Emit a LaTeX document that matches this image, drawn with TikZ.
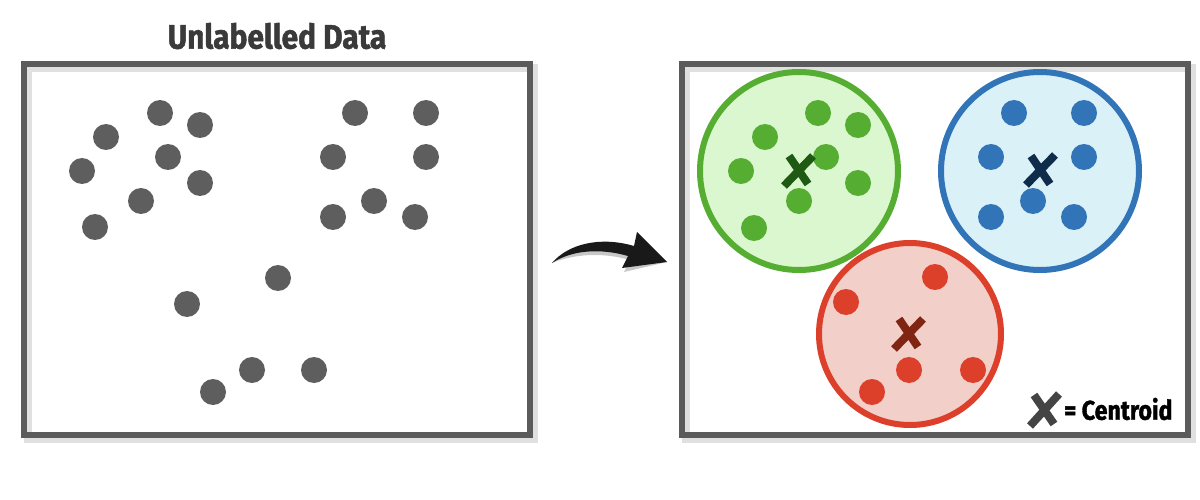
\documentclass[tikz,border=0pt]{standalone}
\usepackage{fontspec}
\setmainfont{Fira Sans}[BoldFeatures={FakeBold=1.5}]
\usepackage{xcolor}
\usetikzlibrary{positioning}

\definecolor{boxgray}{HTML}{5B5B5B}
\definecolor{dotgray}{HTML}{5E5E5E}
\definecolor{titlegray}{HTML}{3A3A3A}
\definecolor{grnline}{HTML}{55AD32}
\definecolor{grnfill}{HTML}{DBF7CF}
\definecolor{grnmark}{HTML}{1F5A14}
\definecolor{bluline}{HTML}{3274B8}
\definecolor{blufill}{HTML}{DBF1F8}
\definecolor{blumark}{HTML}{0F2D4A}
\definecolor{redline}{HTML}{DC3F2A}
\definecolor{redfill}{HTML}{F3CFCA}
\definecolor{redmark}{HTML}{7F2512}
\definecolor{legmark}{HTML}{444444}

\tikzset{
  frame/.style={draw=boxgray, line width=6pt},
  frameshadow/.style={draw=black, opacity=0.12, line width=8pt},
  cluster/.style={line width=6pt},
  xmark/.style={line width=8pt, line cap=butt},
  label/.style={inner sep=0pt, font=\bfseries}
}

\begin{document}
\begin{tikzpicture}[x=1pt,y=-1pt]
\useasboundingbox (0,0) rectangle (1200,500);

% frames with their shadows
\draw[frameshadow] (28,68) rectangle (534,439);
\draw[frameshadow] (686,68) rectangle (1192,439);
\draw[frame] (24,64) rectangle (530,435);
\draw[frame] (682,64) rectangle (1188,435);

\node[label, text=titlegray, font=\bfseries\fontsize{34}{34}\selectfont] (title) at (277,36) {\scalebox{0.88}[1]{Unlabelled Data}};

% unlabelled points
\foreach \p in {(160,113),(106,137),(200,125),(168,157),(82,171),(200,183),(141,201),(95,227),
  (355,113),(426,113),(333,157),(426,157),(374,201),(333,217),(415,217),
  (278,278),(187,304),(252,370),(314,370),(213,392)}
  \fill[dotgray] \p circle (13pt);

% arrow
\coordinate (arrowtail) at (552,263);
\coordinate (arrowtip) at (667,262);
\fill[black, opacity=0.22, shift={(2,4)}] (arrowtail) .. controls (568,244) and (600,236) .. (634,246) -- (637,232) -- (arrowtip) -- (622,268) -- (628,256) .. controls (600,248) and (572,250) .. (arrowtail);
\fill[black!90] (arrowtail) .. controls (568,244) and (600,236) .. (634,246) -- (637,232) -- (arrowtip) -- (622,268) -- (628,256) .. controls (600,248) and (572,250) .. (arrowtail);

% green cluster
\draw[cluster, draw=grnline, fill=grnfill] (799,171) circle (99pt);
\foreach \p in {(818,113),(858,125),(765,137),(826,157),(741,171),(858,183),(799,201),(754,228)}
  \fill[grnline] \p circle (13pt);
\draw[xmark, grnmark] (789,156) -- (808,184);
\draw[xmark, grnmark] (813,156) -- (784,186);

% blue cluster
\draw[cluster, draw=bluline, fill=blufill] (1040,171) circle (99pt);
\foreach \p in {(1014,113),(1084,113),(991,157),(1084,157),(1033,201),(991,217),(1074,217)}
  \fill[bluline] \p circle (13pt);
\draw[xmark, blumark] (1031,156) -- (1050,184);
\draw[xmark, blumark] (1055,155) -- (1026,185);

% red cluster
\draw[cluster, draw=redline, fill=redfill] (910,334) circle (91pt);
\foreach \p in {(846,302),(935,277),(909,370),(872,392),(973,370)}
  \fill[redline] \p circle (13pt);
\draw[xmark, redmark] (899,319) -- (918,347);
\draw[xmark, redmark] (923,319) -- (894,349);

% legend
\draw[xmark, legmark] (1034,395) -- (1054,424);
\draw[xmark, legmark] (1059,394) -- (1030,426);
\node[label, text=black, font=\bfseries\fontsize{27}{27}\selectfont, anchor=west] (legend) at (1064,409) {\scalebox{0.86}[1]{= Centroid}};
\end{tikzpicture}
\end{document}
